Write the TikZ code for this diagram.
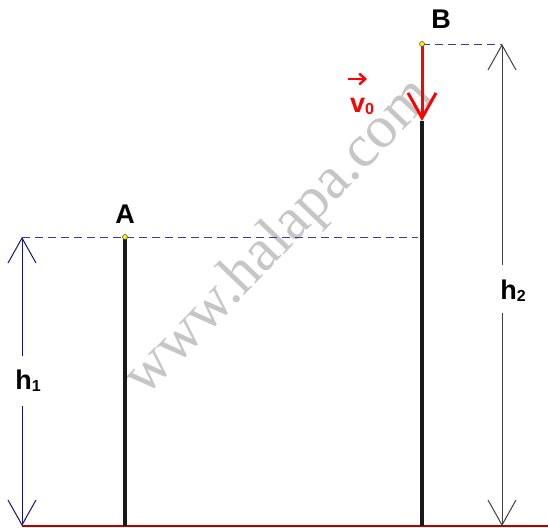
\documentclass[tikz,border=0pt]{standalone}
\usepackage{fontspec}
\setmainfont{Liberation Sans}
\newfontfamily\wmfont{Liberation Serif}
\usetikzlibrary{arrows.meta}
\definecolor{guidecol}{RGB}{60,60,150}
\definecolor{dimblue}{RGB}{20,20,120}
\begin{document}
\begin{tikzpicture}[x=1pt,y=-1pt,
  lbl/.style={font=\fontsize{27}{27}\selectfont\bfseries, inner sep=0pt},
  sub/.style={},
  pole/.style={line width=3.5pt, black!90},
  dim/.style={line width=1pt, {Straight Barb[length=25pt,width=28pt,line width=1pt]}-{Straight Barb[length=25pt,width=28pt,line width=1pt]}},
  guide/.style={dash pattern=on 8pt off 5pt, draw=guidecol, line width=0.8pt},
  pt/.style={circle, fill=yellow, draw=black!70, line width=0.5pt, inner sep=0pt, minimum size=5pt}
]
\useasboundingbox (0,0) rectangle (548,527);
% watermark
\node[text=gray!45, rotate=46, font=\wmfont\fontsize{60}{60}\selectfont] (wm) at (280,238) {www.halapa.com};
% ground
\coordinate (g0) at (22,526);
\coordinate (g1) at (548,526);
\draw[draw=red!70!black, line width=1.5pt] (g0) -- (g1);
% points
\coordinate (A) at (125,237);
\coordinate (Ag) at (125,526);
\coordinate (B) at (422,44);
\coordinate (Bt) at (422,121);
\coordinate (Bg) at (422,526);
% guides
\coordinate (h1t) at (22,237);
\coordinate (h1b) at (22,526);
\coordinate (h2t) at (502,44);
\coordinate (h2b) at (502,526);
\coordinate (Ae) at (418,237);
\draw[guide] (h1t) -- (Ae);
\draw[guide] (B) -- (h2t);
% poles
\draw[pole] (A) -- (Ag);
\draw[pole] (Bt) -- (Bg);
\draw[red, line width=3pt, -{Straight Barb[length=25pt,width=28pt,line width=3pt]}] (B) -- (Bt);
% dimension lines
\draw[dim, draw=dimblue] (h1t) -- (h1b);
\fill[white] (10,356) rectangle (45,406);
\node[lbl] (h1) at (28,381) {h\raisebox{-2pt}{\fontsize{16}{16}\selectfont 1}};
\draw[dim, draw=black!75] (h2t) -- (h2b);
\fill[white] (492,265) rectangle (532,313);
\node[lbl] (h2) at (513,291) {h\raisebox{-2pt}{\fontsize{16}{16}\selectfont 2}};
% points dots
\node[pt] (Ad) at (A) {};
\node[pt] (Bd) at (B) {};
% labels
\node[lbl] (LA) at (125,214) {A};
\node[lbl] (LB) at (441,19) {B};
\node[lbl, text=red] (v0) at (362,106) {v\raisebox{-2pt}{\fontsize{16}{16}\selectfont 0}};
\coordinate (va) at (348,79);
\coordinate (vb) at (367,79);
\draw[red, line width=2.4pt, -{Straight Barb[length=6pt,width=11pt,line width=2.4pt]}] (va) -- (vb);
\end{tikzpicture}
\end{document}
